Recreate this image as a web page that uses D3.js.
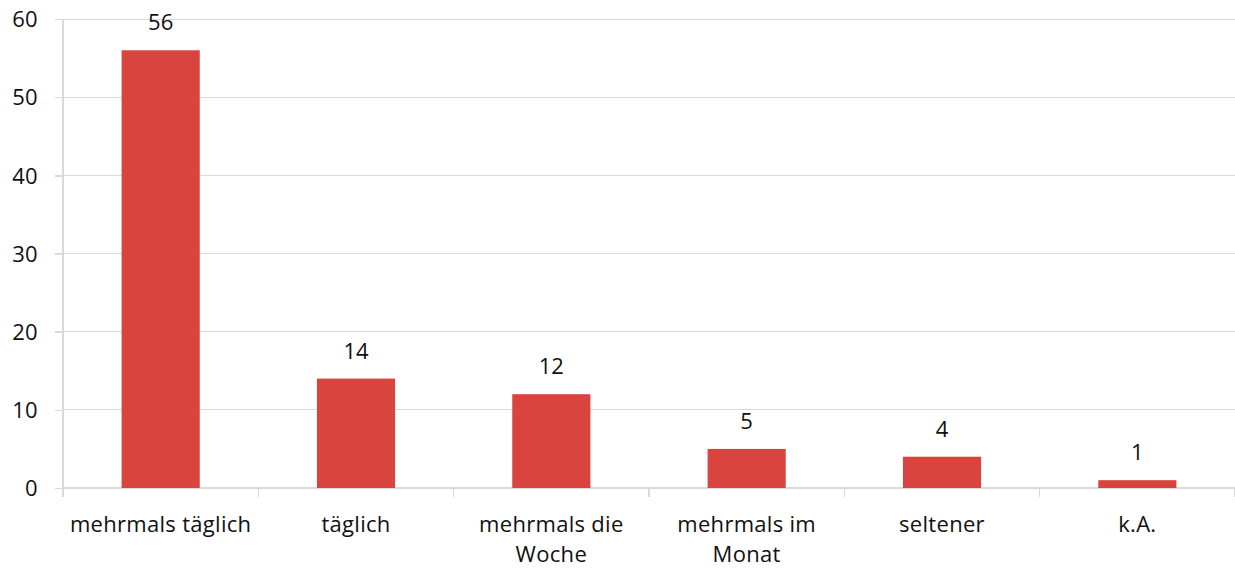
<!DOCTYPE html>
<meta charset="utf-8">
<title>Nutzungshäufigkeit</title>
<style>

body {
  margin: 0;
  background: #fff;
  font: 22px "Open Sans", sans-serif;
}

.grid line {
  stroke: #d9d9d9;
  shape-rendering: crispEdges;
}

.axis path,
.axis line {
  fill: none;
  stroke: #d9d9d9;
  stroke-width: 1.5;
  shape-rendering: crispEdges;
}

.axis text {
  fill: #111;
  font: 22px "Open Sans", sans-serif;
  letter-spacing: 0.3px;
}

.bar {
  fill: #d9443f;
}

.value {
  fill: #111;
  font: 22px "Open Sans", sans-serif;
  text-anchor: middle;
}

</style>
<body>
<svg></svg>

<script src="https://d3js.org/d3.v7.min.js"></script>
<script>

var categories = ["mehrmals täglich", "täglich", "mehrmals die Woche", "mehrmals im Monat", "seltener", "k.A."];
var tickLabels = [["mehrmals täglich"], ["täglich"], ["mehrmals die", "Woche"], ["mehrmals im", "Monat"], ["seltener"], ["k.A."]];
var values = [56, 14, 12, 5, 4, 1];
var yTicks = [0, 10, 20, 30, 40, 50, 60];

var margin = {top: 19, right: 0, bottom: 83, left: 63},
    width = 1235 - margin.left - margin.right,
    height = 571 - margin.top - margin.bottom;

var data = categories.map(function(c, i) { return {name: c, value: values[i], lines: tickLabels[i]}; });

var x = d3.scaleBand()
    .domain(categories)
    .range([0, width])
    .paddingInner(0.6)
    .paddingOuter(0.3);

// boundaries between categories for the tick marks
var step = width / categories.length;

var y = d3.scaleLinear()
    .domain([0, 60])
    .range([height, 0]);

var svg = d3.select("svg")
    .attr("width", 1235)
    .attr("height", 571)
  .append("g")
    .attr("transform", "translate(" + margin.left + "," + margin.top + ")");

svg.append("g")
    .attr("class", "grid")
  .selectAll("line")
    .data(yTicks.slice(1))
  .enter().append("line")
    .attr("x1", 0)
    .attr("x2", width)
    .attr("y1", function(d) { return y(d); })
    .attr("y2", function(d) { return y(d); });

svg.append("g")
    .attr("class", "y axis")
    .call(d3.axisLeft(y).tickValues(yTicks).tickSize(8).tickPadding(17))
    .call(function(g) { g.select(".domain").attr("d", "M0," + height + "V0"); })
    .selectAll("text")
    .attr("dy", "0.35em");

// x axis: baseline plus tick marks between the bands
var xAxis = svg.append("g")
    .attr("class", "x axis")
    .attr("transform", "translate(0," + height + ")");

xAxis.append("path")
    .attr("d", "M0,0H" + width);

xAxis.selectAll(".tick")
    .data(d3.range(categories.length + 1))
  .enter().append("line")
    .attr("x1", function(i) { return i * step; })
    .attr("x2", function(i) { return i * step; })
    .attr("y1", 0)
    .attr("y2", 9);

var labels = xAxis.selectAll(".label")
    .data(data)
  .enter().append("text")
    .attr("class", "label")
    .attr("y", 44)
    .style("text-anchor", "middle");

labels.selectAll("tspan")
    .data(function(d) { return d.lines.map(function(l) { return {name: d.name, text: l}; }); })
  .enter().append("tspan")
    .attr("x", function(d) { return x(d.name) + x.bandwidth() / 2; })
    .attr("dy", function(d, i) { return i ? 30 : 0; })
    .text(function(d) { return d.text; });

svg.selectAll(".bar")
    .data(data)
  .enter().append("rect")
    .attr("class", "bar")
    .attr("x", function(d) { return x(d.name); })
    .attr("width", x.bandwidth())
    .attr("y", function(d) { return y(d.value); })
    .attr("height", function(d) { return height - y(d.value); });

svg.selectAll(".value")
    .data(data)
  .enter().append("text")
    .attr("class", "value")
    .attr("x", function(d) { return x(d.name) + x.bandwidth() / 2; })
    .attr("y", function(d) { return y(d.value) - 20; })
    .text(function(d) { return d.value; });

</script>
</body>
